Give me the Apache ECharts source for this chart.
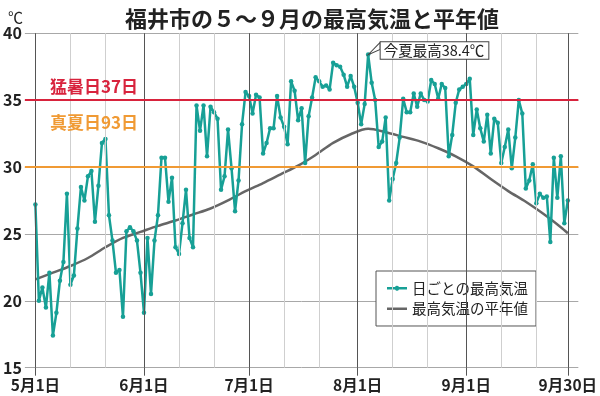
<!DOCTYPE html>
<html><head><meta charset="utf-8">
<script src="https://cdn.jsdelivr.net/npm/echarts@6/dist/echarts.min.js"></script>
<style>html,body{margin:0;padding:0;background:#fff}#c{width:600px;height:396px}</style>
</head><body><div id="c"></div>
<script>
const FONT = '"Noto Sans CJK JP", "Noto Sans", sans-serif';
const titleText = '福井市の５～９月の最高気温と平年値';
const unitLabel = '℃';
const hotLabel = '猛暑日37日';
const summerLabel = '真夏日93日';
const calloutText = '今夏最高38.4℃';
const seriesNames = ['日ごとの最高気温', '最高気温の平年値'];

// day index 0 = 5月1日 ... 152 = 9月30日
const dailyMax = [
  27.2,20.0,21.0,19.5,22.1,17.4,19.1,21.5,22.9,28.0,
  21.2,21.9,25.4,28.5,27.5,29.3,29.7,25.9,28.6,31.8,
  32.1,26.4,24.5,22.1,22.3,18.8,25.2,25.5,25.2,24.5,
  22.1,19.1,24.7,20.5,24.5,26.4,30.7,30.7,27.4,29.2,
  24.0,23.5,25.8,28.3,24.7,24.0,34.6,32.7,34.6,30.8,
  34.5,34.1,33.6,28.3,29.3,32.8,29.9,26.7,29.0,33.2,
  35.6,35.3,34.0,35.4,35.2,31.0,31.8,32.9,32.9,35.3,
  33.7,33.0,31.7,36.4,35.7,33.5,34.4,30.3,33.8,35.2,
  36.7,36.4,36.0,36.1,35.8,37.8,37.6,37.5,36.9,36.0,
  36.8,36.0,34.8,33.2,34.7,38.4,36.3,35.0,31.5,31.9,
  33.7,27.5,29.1,30.3,32.2,35.1,34.1,34.1,35.5,34.5,
  35.5,35.0,34.9,36.5,36.2,35.1,36.2,35.9,30.8,32.4,
  34.8,35.8,36.0,36.2,36.6,32.4,34.3,32.9,31.9,33.9,
  31.0,33.6,33.3,30.3,31.5,32.8,29.9,32.2,35.0,34.0,
  28.4,29.0,30.2,27.3,28.0,27.7,27.8,24.4,30.7,27.7,
  30.8,25.8,27.5
];
const normalDays = [0,5,10,15,20,25,30,35,40,45,50,55,60,65,70,75,80,85,90,95,100,105,110,115,120,125,130,135,140,145,150,152];
const normalVals = [21.6,22.1,22.6,23.2,24.0,24.7,25.15,25.6,26.0,26.45,26.9,27.5,28.2,28.8,29.45,30.1,30.9,31.8,32.45,32.85,32.6,32.25,31.9,31.4,30.8,30.05,29.1,28.2,27.4,26.5,25.5,25.05];

const monthTickDays = [0,31,61,92,123,152];
const monthTickLabels = ['5月1日','6月1日','7月1日','8月1日','9月1日','9月30日'];
const minorGridDays = [10,20,41,51,71,81,102,112,133,143];
const yMin = 15, yMax = 40, yStep = 5;
const hotLine = 35, summerLine = 30;
const peakDay = 95, peakVal = 38.4;

const TEAL = '#17a096', GRAY = '#666666', RED = '#d8233d', ORANGE = '#f09a34';

const gridLines = [];
minorGridDays.forEach(d => gridLines.push({xAxis: d, lineStyle: {color: '#cfcfcf', width: 1, type: 'solid'}}));
monthTickDays.forEach(d => gridLines.push({xAxis: d, lineStyle: {color: '#555', width: 1, type: 'solid'}}));
gridLines.push({yAxis: summerLine, lineStyle: {color: ORANGE, width: 2, type: 'solid'}});
gridLines.push({yAxis: hotLine, lineStyle: {color: RED, width: 2, type: 'solid'}});

// legend icons (20 x 14 box)
const ICON_DOT_LINE = 'path://M0,5.75 L8,5.75 A2.25,2.25 0 0 1 12,5.75 L20,5.75 L20,8.25 L12,8.25 A2.25,2.25 0 0 1 8,8.25 L0,8.25 Z';
const ICON_LINE = 'path://M0,0 L20,0 L20,2.5 L0,2.5 Z';

const chart = echarts.init(document.getElementById('c'));
chart.setOption({
  animation: false,
  backgroundColor: '#fff',
  title: [
    {text: titleText, left: 307, textAlign: 'center', top: 3,
     textStyle: {fontFamily: FONT, fontSize: 22, fontWeight: 'bold', color: '#222'}},
    {text: unitLabel, left: 3, top: 5,
     textStyle: {fontFamily: FONT, fontSize: 15, fontWeight: 'normal', color: '#222'}},
    {text: hotLabel, left: 45, top: 73,
     textStyle: {fontFamily: FONT, fontSize: 17, fontWeight: 'bold', color: RED}},
    {text: summerLabel, left: 45, top: 109,
     textStyle: {fontFamily: FONT, fontSize: 17, fontWeight: 'bold', color: ORANGE}}
  ],
  legend: {
    orient: 'vertical', left: 376, top: 271,
    padding: [10, 8, 10, 11], itemGap: 6, itemWidth: 20, itemHeight: 14,
    borderColor: '#555', borderWidth: 1, backgroundColor: '#fff',
    textStyle: {fontFamily: FONT, fontSize: 14.5, color: '#222'},
    data: [
      {name: seriesNames[0], icon: ICON_DOT_LINE, itemStyle: {color: TEAL, borderWidth: 0}},
      {name: seriesNames[1], icon: ICON_LINE, itemStyle: {color: GRAY, borderWidth: 0}}
    ]
  },
  grid: {left: 22.5, right: 10.25, top: 33.2, bottom: 28.3, containLabel: false},
  xAxis: {
    type: 'value', min: -3, max: 155,
    splitLine: {show: false},
    axisLine: {show: false},
    axisTick: {show: true, customValues: monthTickDays, length: 8, lineStyle: {color: '#555', width: 1}},
    axisLabel: {
      show: true, customValues: monthTickDays, margin: 10,
      fontFamily: FONT, fontSize: 15.5, fontWeight: 'bold', color: '#222',
      formatter: v => { const i = monthTickDays.indexOf(Math.round(v)); return i >= 0 ? monthTickLabels[i] : ''; }
    }
  },
  yAxis: {
    type: 'value', min: yMin, max: yMax, interval: yStep,
    axisLine: {show: false}, axisTick: {show: false},
    splitLine: {show: true, lineStyle: {color: '#a8a8a8', width: 1}},
    axisLabel: {margin: 3, fontFamily: FONT, fontSize: 16, fontWeight: 'bold', color: '#222'}
  },
  series: [
    {
      name: 'grid-helper', type: 'line', data: [], z: 1, silent: true,
      markLine: {silent: true, symbol: 'none', label: {show: false}, data: gridLines, animation: false}
    },
    {
      name: seriesNames[1], type: 'line', z: 3,
      data: normalDays.map((d, i) => [d, normalVals[i]]),
      showSymbol: false, symbol: 'none', smooth: 0.3,
      lineStyle: {color: GRAY, width: 2.5}, itemStyle: {color: GRAY}
    },
    {
      name: seriesNames[0], type: 'line', z: 4,
      data: dailyMax.map((v, i) => [i, v]),
      symbol: 'circle', symbolSize: 4.5, showAllSymbol: true,
      lineStyle: {color: TEAL, width: 2.5}, itemStyle: {color: TEAL},
      markPoint: {
        silent: true,
        data: [
          {coord: [peakDay, peakVal], symbol: 'path://M12,0 L0,12.3 L12,7 Z',
           symbolSize: [12, 12.3], symbolOffset: [6, -6.1],
           itemStyle: {color: '#fff', borderColor: '#444', borderWidth: 1},
           label: {show: false}},
          {coord: [peakDay, peakVal], symbol: 'circle', symbolSize: 1,
           itemStyle: {color: 'rgba(0,0,0,0)'},
           label: {show: true, position: 'right', distance: 12, offset: [0, -4],
             formatter: calloutText, fontFamily: FONT, fontSize: 14.5, color: '#222',
             backgroundColor: '#fff', borderColor: '#444', borderWidth: 1, padding: [1, 4, 1, 3]}}
        ]
      }
    }
  ]
});
</script></body></html>
